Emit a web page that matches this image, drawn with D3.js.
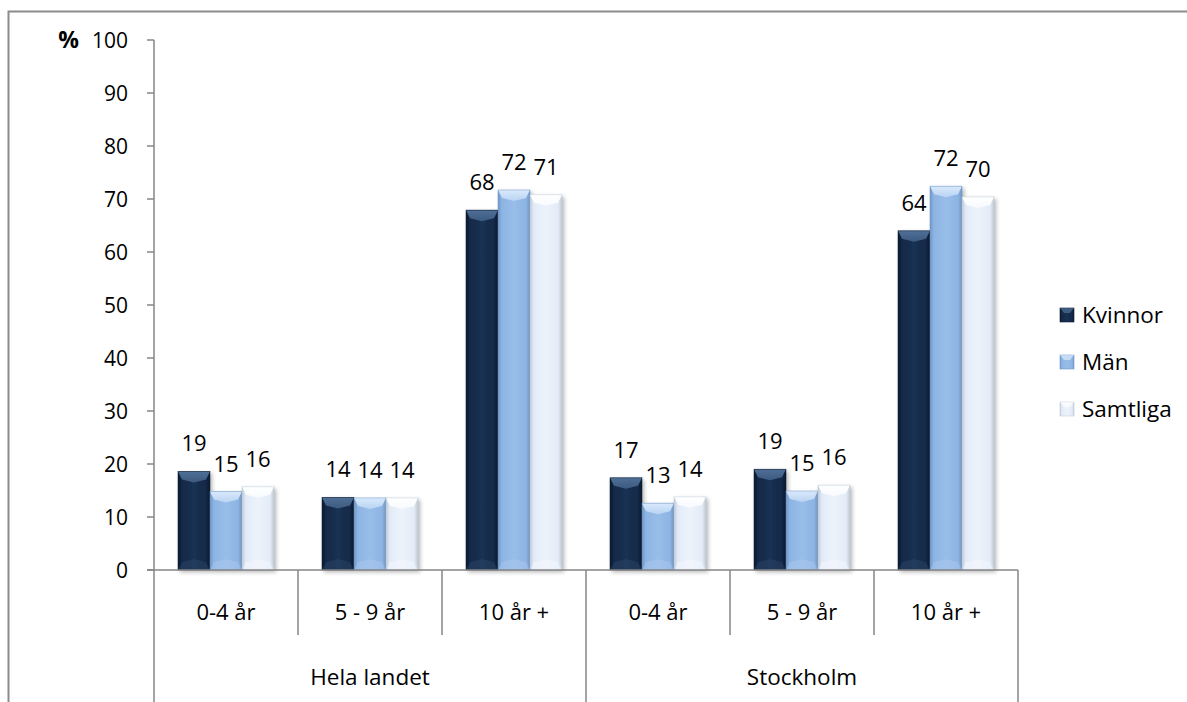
<!DOCTYPE html>
<html><head><meta charset="utf-8">
<script src="https://cdn.jsdelivr.net/npm/d3@7"></script>
<style>body{margin:0;background:#fff}svg{display:block;font-family:"Open Sans",Lato,sans-serif}</style>
</head><body><svg id="c" width="1187" height="702"></svg>
<script>
const groups = ["Hela landet", "Stockholm"];
const periods = ["0-4 år", "5 - 9 år", "10 år +"];
const series = ["Kvinnor", "Män", "Samtliga"];
const kvinnor = [18.6, 13.7, 67.9, 17.4, 19.0, 64.0];
const man = [14.8, 13.6, 71.7, 12.6, 14.9, 72.4];
const samtliga = [15.7, 13.6, 70.8, 13.8, 16.0, 70.4];
const yTicks = [0, 10, 20, 30, 40, 50, 60, 70, 80, 90, 100];
const yUnit = "%";

const cats = [];
groups.forEach(g => periods.forEach(p => cats.push(g + "|" + p)));
const values = [kvinnor, man, samtliga];

const svg = d3.select("#c");
const W = 1187, H = 702;
const L = 154, R = 1018, T = 40, B = 570;
const lineCol = "#868686";

const x = d3.scaleBand().domain(cats).range([L, R]).paddingInner(0).paddingOuter(0);
const xs = d3.scaleBand().domain(series).range([0, x.bandwidth()]).paddingInner(0).paddingOuter(0.75);
const y = d3.scaleLinear().domain([0, 100]).range([B, T]);

const pal = [
  {base:"#132846", light:"#3d5a80", mid:"#1a3153", dark:"#0b1a30", top:"#4f6f96", bot:"#2a4468"},
  {base:"#8db4e2", light:"#b9d3f2", mid:"#98bde9", dark:"#6f97c8", top:"#d9e9fc", bot:"#a9c8ee"},
  {base:"#e2ebf7", light:"#f7fafe", mid:"#ecf3fb", dark:"#c0cbd8", top:"#ffffff", bot:"#f3f7fc"}
];

const defs = svg.append("defs");
pal.forEach((p, i) => {
  const g = defs.append("linearGradient").attr("id", "g" + i).attr("x1", 0).attr("x2", 1).attr("y1", 0).attr("y2", 0);
  g.append("stop").attr("offset", 0).attr("stop-color", p.dark);
  g.append("stop").attr("offset", 0.12).attr("stop-color", p.base);
  g.append("stop").attr("offset", 0.5).attr("stop-color", p.mid);
  g.append("stop").attr("offset", 0.88).attr("stop-color", p.base);
  g.append("stop").attr("offset", 1).attr("stop-color", p.dark);
  const t = defs.append("linearGradient").attr("id", "t" + i).attr("x1", 0).attr("x2", 0).attr("y1", 0).attr("y2", 1);
  t.append("stop").attr("offset", 0).attr("stop-color", p.top);
  t.append("stop").attr("offset", 1).attr("stop-color", p.light);
});
const f = defs.append("filter").attr("id", "sh").attr("x", "-20%").attr("y", "-5%").attr("width", "150%").attr("height", "120%");
f.append("feDropShadow").attr("dx", 2).attr("dy", 2).attr("stdDeviation", 2).attr("flood-color", "#000").attr("flood-opacity", 0.3);

// outer frame
svg.append("path").attr("d", `M8.5,${H} V11.5 H${W}`).attr("fill", "none").attr("stroke", "#8c8c8c").attr("stroke-width", 2);

// y axis ticks & labels
const ya = svg.append("g");
ya.append("line").attr("x1", L).attr("x2", L).attr("y1", T).attr("y2", H).attr("stroke", lineCol).attr("stroke-width", 1.5);
yTicks.forEach(t => {
  ya.append("line").attr("x1", L - 7).attr("x2", L).attr("y1", y(t)).attr("y2", y(t)).attr("stroke", lineCol).attr("stroke-width", 1.5);
  ya.append("text").attr("x", 128).attr("y", y(t)).attr("dy", "0.36em").attr("text-anchor", "end")
    .attr("font-size", 21).attr("fill", "#000").text(t);
});
ya.append("text").attr("x", 79).attr("y", y(100)).attr("dy", "0.36em").attr("text-anchor", "end")
  .attr("font-size", 23).attr("font-weight", "bold").attr("fill", "#000").text(yUnit);

// bars
const barsG = svg.append("g");
cats.forEach((c, ci) => {
  series.forEach((s, si) => {
    const v = values[si][ci];
    const bx = x(c) + xs(s), bw = xs.bandwidth();
    const by = y(v), bh = y(0) - y(v);
    const p = pal[si];
    const g = barsG.append("g");
    g.append("rect").attr("x", bx).attr("y", by).attr("width", bw).attr("height", bh)
      .attr("fill", `url(#g${si})`).attr("filter", "url(#sh)");
    const d = Math.min(8, bh / 2);
    g.append("path").attr("d", `M${bx},${by} H${bx + bw} L${bx + bw - 4},${by + d} L${bx + bw / 2},${by + d + 3} L${bx + 4},${by + d} Z`)
      .attr("fill", `url(#t${si})`);
    g.append("path").attr("d", `M${bx},${by + bh} H${bx + bw} L${bx + bw - 4},${by + bh - d} L${bx + bw / 2},${by + bh - d - 3} L${bx + 4},${by + bh - d} Z`)
      .attr("fill", p.bot).attr("opacity", 0.5);
    g.append("rect").attr("x", bx).attr("y", by).attr("width", bw).attr("height", bh)
      .attr("fill", "none").attr("stroke", p.dark).attr("stroke-width", 0.8).attr("opacity", 0.6);
  });
});

// value labels
cats.forEach((c, ci) => {
  series.forEach((s, si) => {
    const v = values[si][ci];
    svg.append("text").attr("x", x(c) + xs(s) + xs.bandwidth() / 2).attr("y", y(v) - 20)
      .attr("text-anchor", "middle").attr("font-size", 22).attr("fill", "#000").text(d3.format(".0f")(v));
  });
});

// x axis
svg.append("line").attr("x1", L - 7).attr("x2", R).attr("y1", B).attr("y2", B).attr("stroke", lineCol).attr("stroke-width", 1.5);
cats.forEach((c, ci) => {
  const xr = x(c) + x.bandwidth();
  const outer = (ci % periods.length) === periods.length - 1;
  svg.append("line").attr("x1", xr).attr("x2", xr).attr("y1", B).attr("y2", outer ? H : 635)
    .attr("stroke", lineCol).attr("stroke-width", 1.5);
  svg.append("text").attr("x", x(c) + x.bandwidth() / 2).attr("y", 612).attr("dy", "0.36em")
    .attr("text-anchor", "middle").attr("font-size", 22).attr("fill", "#000").text(c.split("|")[1]);
});
groups.forEach((g, gi) => {
  const x0 = x(g + "|" + periods[0]), x1 = x(g + "|" + periods[periods.length - 1]) + x.bandwidth();
  svg.append("text").attr("x", (x0 + x1) / 2).attr("y", 677).attr("dy", "0.36em")
    .attr("text-anchor", "middle").attr("font-size", 22.5).attr("fill", "#000").text(g);
});

// legend
series.forEach((s, si) => {
  const cy = 315 + si * 47;
  const p = pal[si];
  svg.append("rect").attr("x", 1060).attr("y", cy - 7).attr("width", 14).attr("height", 14).attr("fill", `url(#g${si})`)
    .attr("stroke", p.dark).attr("stroke-width", 0.6);
  svg.append("path").attr("d", `M1060,${cy - 7} H1074 L1070,${cy - 2} L1064,${cy - 2} Z`).attr("fill", p.top).attr("opacity", 0.7);
  svg.append("text").attr("x", 1082).attr("y", cy).attr("dy", "0.36em").attr("font-size", 22.5).attr("fill", "#000").text(s);
});
</script></body></html>
